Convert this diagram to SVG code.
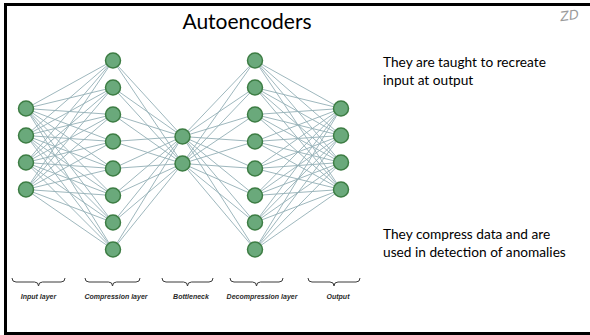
<svg xmlns="http://www.w3.org/2000/svg" width="590" height="335" viewBox="0 0 590 335">
  <style>
    .frame { fill: #ffffff; stroke: #000000; stroke-width: 3; }
    .title { font-family: Lato, "Liberation Sans", sans-serif; font-size: 21px; fill: #000000; text-anchor: middle; }
    .body { font-family: Lato, "Liberation Sans", sans-serif; font-size: 13.7px; fill: #000000; }
    .sig { font-family: "DejaVu Sans", sans-serif; font-style: italic; font-size: 13px; fill: #9a9a9a; }
    .edge { fill: none; stroke: #93afb6; stroke-width: 0.9; }
    .node { fill: #6aa97b; stroke: #3d7d44; stroke-width: 1.5; }
    .brace { fill: none; stroke: #3a3a3a; stroke-width: 1; }
    .lbl { font-family: "Liberation Sans", Arial, sans-serif; font-size: 7px; font-weight: bold; font-style: italic; fill: #2a2a2a; text-anchor: middle; }
  </style>

  <rect class="frame" x="5.5" y="4.5" width="590" height="329"/>

  <text class="title" x="247" y="29">Autoencoders</text>
  <text class="sig" x="560" y="20" transform="rotate(-8 570 15)">ZD</text>

  <!-- fully connected layers -->
  <g id="connectors">
    <!-- input -> compression -->
    <path class="edge" d="M26 108.5L113 60.5M26 108.5L113 87.5M26 108.5L113 114.5M26 108.5L113 141.5M26 108.5L113 168.5M26 108.5L113 195.5M26 108.5L113 222.5M26 108.5L113 249.5
      M26 135.5L113 60.5M26 135.5L113 87.5M26 135.5L113 114.5M26 135.5L113 141.5M26 135.5L113 168.5M26 135.5L113 195.5M26 135.5L113 222.5M26 135.5L113 249.5
      M26 162.5L113 60.5M26 162.5L113 87.5M26 162.5L113 114.5M26 162.5L113 141.5M26 162.5L113 168.5M26 162.5L113 195.5M26 162.5L113 222.5M26 162.5L113 249.5
      M26 189.5L113 60.5M26 189.5L113 87.5M26 189.5L113 114.5M26 189.5L113 141.5M26 189.5L113 168.5M26 189.5L113 195.5M26 189.5L113 222.5M26 189.5L113 249.5"/>
    <!-- compression -> bottleneck -->
    <path class="edge" d="M113 60.5L182.5 136.5M113 87.5L182.5 136.5M113 114.5L182.5 136.5M113 141.5L182.5 136.5M113 168.5L182.5 136.5M113 195.5L182.5 136.5M113 222.5L182.5 136.5M113 249.5L182.5 136.5
      M113 60.5L182.5 163.5M113 87.5L182.5 163.5M113 114.5L182.5 163.5M113 141.5L182.5 163.5M113 168.5L182.5 163.5M113 195.5L182.5 163.5M113 222.5L182.5 163.5M113 249.5L182.5 163.5"/>
    <!-- bottleneck -> decompression -->
    <path class="edge" d="M182.5 136.5L255 60.5M182.5 136.5L255 87.5M182.5 136.5L255 114.5M182.5 136.5L255 141.5M182.5 136.5L255 168.5M182.5 136.5L255 195.5M182.5 136.5L255 222.5M182.5 136.5L255 249.5
      M182.5 163.5L255 60.5M182.5 163.5L255 87.5M182.5 163.5L255 114.5M182.5 163.5L255 141.5M182.5 163.5L255 168.5M182.5 163.5L255 195.5M182.5 163.5L255 222.5M182.5 163.5L255 249.5"/>
    <!-- decompression -> output -->
    <path class="edge" d="M341 108.5L255 60.5M341 108.5L255 87.5M341 108.5L255 114.5M341 108.5L255 141.5M341 108.5L255 168.5M341 108.5L255 195.5M341 108.5L255 222.5M341 108.5L255 249.5
      M341 135.5L255 60.5M341 135.5L255 87.5M341 135.5L255 114.5M341 135.5L255 141.5M341 135.5L255 168.5M341 135.5L255 195.5M341 135.5L255 222.5M341 135.5L255 249.5
      M341 162.5L255 60.5M341 162.5L255 87.5M341 162.5L255 114.5M341 162.5L255 141.5M341 162.5L255 168.5M341 162.5L255 195.5M341 162.5L255 222.5M341 162.5L255 249.5
      M341 189.5L255 60.5M341 189.5L255 87.5M341 189.5L255 114.5M341 189.5L255 141.5M341 189.5L255 168.5M341 189.5L255 195.5M341 189.5L255 222.5M341 189.5L255 249.5"/>
  </g>

  <!-- input layer -->
  <g id="input-layer">
    <circle class="node" cx="26" cy="108.5" r="7.5"/>
    <circle class="node" cx="26" cy="135.5" r="7.5"/>
    <circle class="node" cx="26" cy="162.5" r="7.5"/>
    <circle class="node" cx="26" cy="189.5" r="7.5"/>
  </g>

  <!-- compression layer -->
  <g id="compression-layer">
    <circle class="node" cx="113" cy="60.5" r="7.5"/>
    <circle class="node" cx="113" cy="87.5" r="7.5"/>
    <circle class="node" cx="113" cy="114.5" r="7.5"/>
    <circle class="node" cx="113" cy="141.5" r="7.5"/>
    <circle class="node" cx="113" cy="168.5" r="7.5"/>
    <circle class="node" cx="113" cy="195.5" r="7.5"/>
    <circle class="node" cx="113" cy="222.5" r="7.5"/>
    <circle class="node" cx="113" cy="249.5" r="7.5"/>
  </g>

  <!-- bottleneck -->
  <g id="bottleneck">
    <circle class="node" cx="182.5" cy="136.5" r="7.5"/>
    <circle class="node" cx="182.5" cy="163.5" r="7.5"/>
  </g>

  <!-- decompression layer -->
  <g id="decompression-layer">
    <circle class="node" cx="255" cy="60.5" r="7.5"/>
    <circle class="node" cx="255" cy="87.5" r="7.5"/>
    <circle class="node" cx="255" cy="114.5" r="7.5"/>
    <circle class="node" cx="255" cy="141.5" r="7.5"/>
    <circle class="node" cx="255" cy="168.5" r="7.5"/>
    <circle class="node" cx="255" cy="195.5" r="7.5"/>
    <circle class="node" cx="255" cy="222.5" r="7.5"/>
    <circle class="node" cx="255" cy="249.5" r="7.5"/>
  </g>

  <!-- output layer -->
  <g id="output-layer">
    <circle class="node" cx="341" cy="108.5" r="7.5"/>
    <circle class="node" cx="341" cy="135.5" r="7.5"/>
    <circle class="node" cx="341" cy="162.5" r="7.5"/>
    <circle class="node" cx="341" cy="189.5" r="7.5"/>
  </g>

  <!-- layer captions with underbraces -->
  <g id="captions">
    <path class="brace" d="M12 278Q12 282 16 282L34.5 282Q38.5 282 38.5 286Q38.5 282 42.5 282L61 282Q65 282 65 278"/>
    <path class="brace" d="M85 278Q85 282 89 282L108.5 282Q112.5 282 112.5 286Q112.5 282 116.5 282L136 282Q140 282 140 278"/>
    <path class="brace" d="M162 278Q162 282 166 282L183.5 282Q187.5 282 187.5 286Q187.5 282 191.5 282L209 282Q213 282 213 278"/>
    <path class="brace" d="M230 278Q230 282 234 282L252.5 282Q256.5 282 256.5 286Q256.5 282 260.5 282L279 282Q283 282 283 278"/>
    <path class="brace" d="M308 278Q308 282 312 282L330 282Q334 282 334 286Q334 282 338 282L356 282Q360 282 360 278"/>
    <text class="lbl" x="38.5" y="299">Input layer</text>
    <text class="lbl" x="116" y="299">Compression layer</text>
    <text class="lbl" x="191" y="299">Bottleneck</text>
    <text class="lbl" x="262" y="299">Decompression layer</text>
    <text class="lbl" x="338" y="299">Output</text>
  </g>

  <!-- notes -->
  <text class="body" x="383" y="67">They are taught to recreate</text>
  <text class="body" x="383" y="85">input at output</text>
  <text class="body" x="383" y="239">They compress data and are</text>
  <text class="body" x="383" y="257">used in detection of anomalies</text>
</svg>
